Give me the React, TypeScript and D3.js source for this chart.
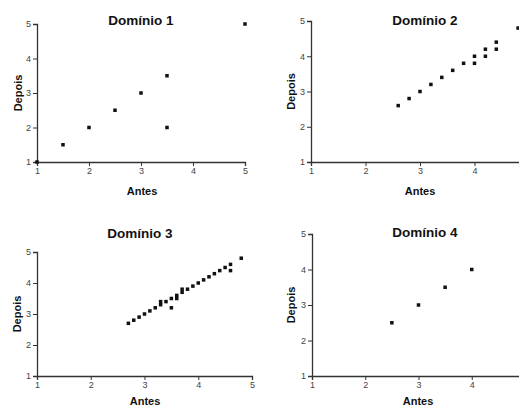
import React, { useEffect, useRef } from 'react'
import * as d3 from 'd3'

const ticks = [1, 2, 3, 4, 5]
// the right-hand panels are cut by the picture edge, so the "5" under x is not visible there
const ticksClipped = [1, 2, 3, 4]

const d1Antes = [1, 1.5, 2, 2.5, 3, 3.5, 3.5, 5]
const d1Depois = [1, 1.5, 2, 2.5, 3, 3.5, 2, 5]

const d2Antes = [2.6, 2.8, 3, 3.2, 3.4, 3.6, 3.8, 4, 4, 4.2, 4.2, 4.4, 4.4, 4.8]
const d2Depois = [2.6, 2.8, 3, 3.2, 3.4, 3.6, 3.8, 3.8, 4, 4, 4.2, 4.2, 4.4, 4.8]

const d3Antes = [2.7, 2.8, 2.9, 3, 3.1, 3.2, 3.3, 3.3, 3.4, 3.5, 3.5, 3.6, 3.6, 3.7, 3.7, 3.8, 3.9, 4, 4.1, 4.2, 4.3, 4.4, 4.5, 4.6, 4.6, 4.8]
const d3Depois = [2.7, 2.8, 2.9, 3, 3.1, 3.2, 3.3, 3.4, 3.4, 3.5, 3.2, 3.5, 3.6, 3.7, 3.8, 3.8, 3.9, 4, 4.1, 4.2, 4.3, 4.4, 4.5, 4.6, 4.4, 4.8]

const d4Antes = [2.5, 3, 3.5, 4]
const d4Depois = [2.5, 3, 3.5, 4]

const panels = [
  { title: 'Domínio 1', antes: d1Antes, depois: d1Depois, xt: ticks, x0: 37, x1: 245, y0: 162, y1: 24, titleX: 141, titleY: 25, antesX: 142, antesY: 195, depoisX: 22 },
  { title: 'Domínio 2', antes: d2Antes, depois: d2Depois, xt: ticksClipped, x0: 311, x1: 529, y0: 162, y1: 21, titleX: 425, titleY: 25, antesX: 420, antesY: 195, depoisX: 295 },
  { title: 'Domínio 3', antes: d3Antes, depois: d3Depois, xt: ticks, x0: 37, x1: 252, y0: 376, y1: 252, titleX: 140, titleY: 238, antesX: 145, antesY: 405, depoisX: 21 },
  { title: 'Domínio 4', antes: d4Antes, depois: d4Depois, xt: ticksClipped, x0: 312, x1: 525, y0: 376, y1: 234, titleX: 425, titleY: 237, antesX: 418, antesY: 405, depoisX: 295 },
]

const font = 'Arial, "Liberation Sans", sans-serif'

export default function App() {
  const ref = useRef<SVGSVGElement>(null)

  useEffect(() => {
    const svg = d3.select(ref.current)
    svg.selectAll('*').remove()

    panels.forEach(p => {
      const x = d3.scaleLinear().domain([1, 5]).range([p.x0, p.x1])
      const y = d3.scaleLinear().domain([1, 5]).range([p.y0, p.y1])
      const g = svg.append('g')

      // axes
      g.append('g').attr('transform', `translate(0,${p.y0})`)
        .call(d3.axisBottom(x).tickValues(p.xt).tickSize(4).tickPadding(2).tickFormat(d3.format('d')))
        .call(a => a.select('.domain').attr('stroke', '#333').attr('stroke-width', 1.3))
        .call(a => a.selectAll('line').attr('stroke', '#333'))
        .selectAll('text').style('font-family', font).style('font-size', '9px').style('fill', '#444')

      g.append('g').attr('transform', `translate(${p.x0},0)`)
        .call(d3.axisLeft(y).tickValues(ticks).tickSize(4).tickPadding(2).tickFormat(d3.format('d')))
        .call(a => a.select('.domain').attr('stroke', '#333').attr('stroke-width', 1.3))
        .call(a => a.selectAll('line').attr('stroke', '#333'))
        .selectAll('text').style('font-family', font).style('font-size', '9px').style('fill', '#444')

      g.selectAll('rect.pt').data(p.antes).enter().append('rect')
        .attr('class', 'pt')
        .attr('x', (d: number) => x(d) - 1.75)
        .attr('y', (_d: number, i: number) => y(p.depois[i]) - 1.75)
        .attr('width', 3.5).attr('height', 3.5)
        .attr('fill', '#111')

      g.append('text')
        .attr('x', p.titleX).attr('y', p.titleY)
        .attr('text-anchor', 'middle')
        .style('font-family', font)
        .style('font-weight', 'bold').style('font-size', '13.5px').style('fill', '#111')
        .text(p.title)

      g.append('text')
        .attr('x', p.antesX).attr('y', p.antesY)
        .attr('text-anchor', 'middle')
        .style('font-family', font)
        .style('font-weight', 'bold').style('font-size', '11px').style('fill', '#111')
        .text('Antes')

      g.append('text')
        .attr('transform', `translate(${p.depoisX},${(p.y0 + p.y1) / 2}) rotate(-90)`)
        .attr('text-anchor', 'middle')
        .style('font-family', font)
        .style('font-weight', 'bold').style('font-size', '11px').style('fill', '#111')
        .text('Depois')
    })
  })

  return (
    <svg ref={ref} width={519} height={407} style={{ position: 'absolute', left: 0, top: 0, background: '#fff' }} />
  )
}
